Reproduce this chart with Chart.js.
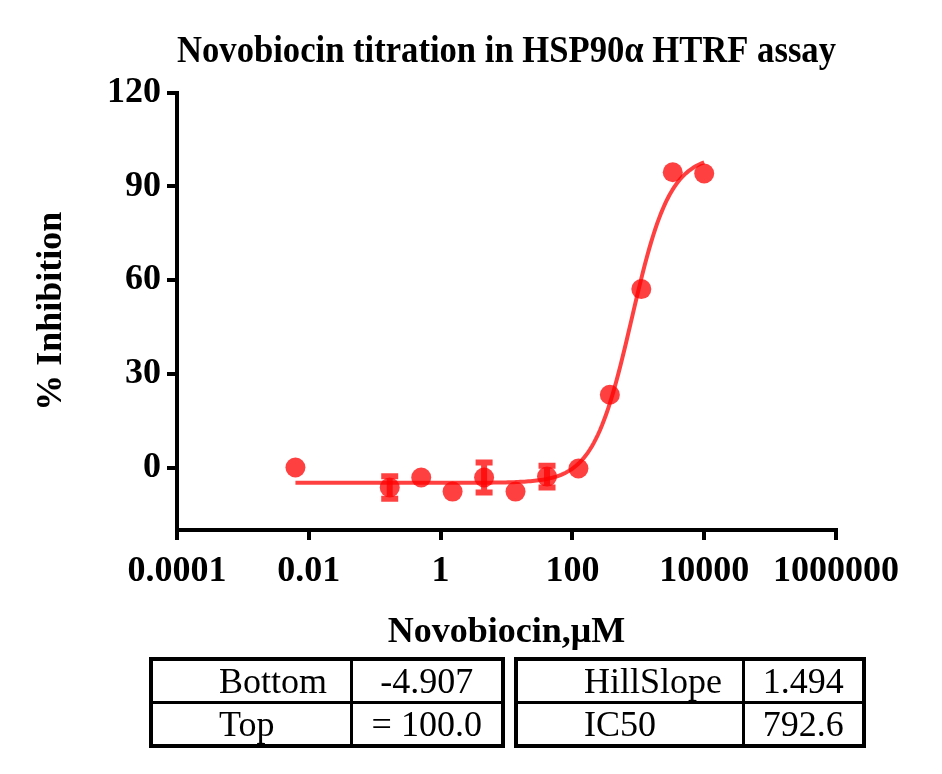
<!DOCTYPE html>
<html>
<head>
<meta charset="utf-8">
<script src="https://cdn.jsdelivr.net/npm/chart.js@4.4.1/dist/chart.umd.min.js"></script>
<style>
  body { margin: 0; background: #fff; }
  #wrap { position: relative; width: 942px; height: 774px; }
  #chart { position: absolute; left: 0; top: 0; }
  table.params {
    position: absolute;
    border-collapse: collapse;
    table-layout: fixed;
    font-family: "Liberation Serif", "Times New Roman", serif;
    font-size: 36px;
    border: 4px solid #000;
  }
  table.params td {
    border: 3px solid #000;
    height: 40px;
    padding: 0;
    line-height: 40px;
    white-space: nowrap;
  }
  table.params td.name { padding-left: 66px; text-align: left; }
  table.params td.val { text-align: center; }
</style>
</head>
<body>
<div id="wrap">
  <canvas id="chart" width="942" height="660"></canvas>
  <table class="params" id="t1" style="left:149px; top:657px; width:356px;">
    <colgroup><col style="width:200px"><col></colgroup>
    <tr><td class="name">Bottom</td><td class="val">-4.907</td></tr>
    <tr><td class="name">Top</td><td class="val">= 100.0</td></tr>
  </table>
  <table class="params" id="t2" style="left:514px; top:657px; width:352px;">
    <colgroup><col style="width:227px"><col></colgroup>
    <tr><td class="name">HillSlope</td><td class="val">1.494</td></tr>
    <tr><td class="name">IC50</td><td class="val">792.6</td></tr>
  </table>
</div>
<script>
var concentrations = [0.00627, 0.169, 0.508, 1.52, 4.57, 13.7, 41.2, 123.5, 370, 1111, 3333, 10000];
var inhibition = [0.0, -6.4, -3.2, -7.7, -3.2, -7.7, -2.9, -0.3, 23.3, 57.1, 94.5, 94.1];
var errors = [0, 3.6, 0, 0, 4.8, 0, 3.5, 0, 0, 0, 0, 0];

// fit parameters shown in the table
var fitBottom = -4.907;
var fitTop = 100.0;
var fitHillSlope = 1.494;
var fitIC50 = 792.6;

var xTicks = [0.0001, 0.01, 1, 100, 10000, 1000000];
var xTickLabels = ["0.0001", "0.01", "1", "100", "10000", "1000000"];
var yTicks = [0, 30, 60, 90, 120];

var red = 'rgba(255, 0, 0, 0.75)';
var serif = '"Liberation Serif", "Times New Roman", serif';

var points = concentrations.map(function (c, i) { return {x: c, y: inhibition[i]}; });

// 4PL curve from the fit parameters, over the tested range
var curve = [];
var lo = Math.log10(concentrations[0]), hi = Math.log10(concentrations[concentrations.length - 1]);
for (var k = 0; k <= 200; k++) {
    var xv = Math.pow(10, lo + (hi - lo) * k / 200);
    var yv = fitBottom + (fitTop - fitBottom) / (1 + Math.pow(fitIC50 / xv, fitHillSlope));
    curve.push({x: xv, y: yv});
}

var errorBars = {
    id: 'errorBars',
    afterDatasetsDraw: function (chart) {
        var ctx = chart.ctx;
        var xs = chart.scales.x, ys = chart.scales.y;
        ctx.save();
        ctx.strokeStyle = red;
        ctx.lineWidth = 6;
        for (var i = 0; i < concentrations.length; i++) {
            if (!errors[i]) continue;
            var px = xs.getPixelForValue(concentrations[i]);
            var top = ys.getPixelForValue(inhibition[i] + errors[i]);
            var bot = ys.getPixelForValue(inhibition[i] - errors[i]);
            ctx.beginPath();
            ctx.moveTo(px, top); ctx.lineTo(px, bot);
            ctx.moveTo(px - 8.5, top); ctx.lineTo(px + 8.5, top);
            ctx.moveTo(px - 8.5, bot); ctx.lineTo(px + 8.5, bot);
            ctx.stroke();
        }
        ctx.restore();
    }
};

var ctx = document.getElementById("chart");
var chartGraph = new Chart(ctx, {
    type: 'scatter',
    data: {
        datasets: [
            {
                label: 'Novobiocin',
                data: points,
                backgroundColor: red,
                borderWidth: 0,
                pointRadius: 10
            },
            {
                label: 'Fit',
                data: curve,
                showLine: true,
                borderColor: red,
                borderWidth: 4,
                pointRadius: 0,
                fill: false
            }
        ]
    },
    options: {
        responsive: false,
        animation: false,
        events: [],
        layout: {padding: {left: 0, right: 106, top: 0, bottom: 0}},
        plugins: {
            legend: {display: false},
            tooltip: {enabled: false},
            title: {
                display: true,
                fullSize: false,
                text: 'Novobiocin titration in HSP90\u03b1 HTRF assay',
                color: '#000',
                font: {family: serif, size: 38, weight: 'bold'},
                padding: {top: 29, bottom: 18},
                align: 'center'
            }
        },
        scales: {
            x: {
                type: 'logarithmic',
                min: 0.0001,
                max: 1000000,
                afterBuildTicks: function (s) { s.ticks = xTicks.map(function (v) { return {value: v}; }); },
                afterFit: function (s) { s.height = 130; },
                ticks: {
                    color: '#000',
                    font: {family: serif, size: 36, weight: 'bold'},
                    padding: 10,
                    maxRotation: 0,
                    autoSkip: false,
                    callback: function (v) { return xTickLabels[xTicks.indexOf(v)]; }
                },
                grid: {drawOnChartArea: false, drawTicks: true, tickLength: 10, color: '#000', lineWidth: 4},
                border: {display: true, color: '#000', width: 4},
                title: {
                    display: true,
                    text: 'Novobiocin,\u03bcM',
                    color: '#000',
                    font: {family: serif, size: 36, weight: 'bold'},
                    padding: {top: 0, bottom: 6}
                }
            },
            y: {
                min: -20,
                max: 120,
                afterBuildTicks: function (s) { s.ticks = yTicks.map(function (v) { return {value: v}; }); },
                afterFit: function (s) { s.width = 177; },
                ticks: {
                    color: '#000',
                    font: {family: serif, size: 36, weight: 'bold'},
                    padding: 6
                },
                grid: {drawOnChartArea: false, drawTicks: true, tickLength: 10, color: '#000', lineWidth: 4},
                border: {display: true, color: '#000', width: 4},
                title: {
                    display: true,
                    text: '% Inhibition',
                    color: '#000',
                    font: {family: serif, size: 36, weight: 'bold'},
                    padding: {top: 30, bottom: 0}
                }
            }
        }
    },
    plugins: [errorBars]
});
</script>
</body>
</html>
